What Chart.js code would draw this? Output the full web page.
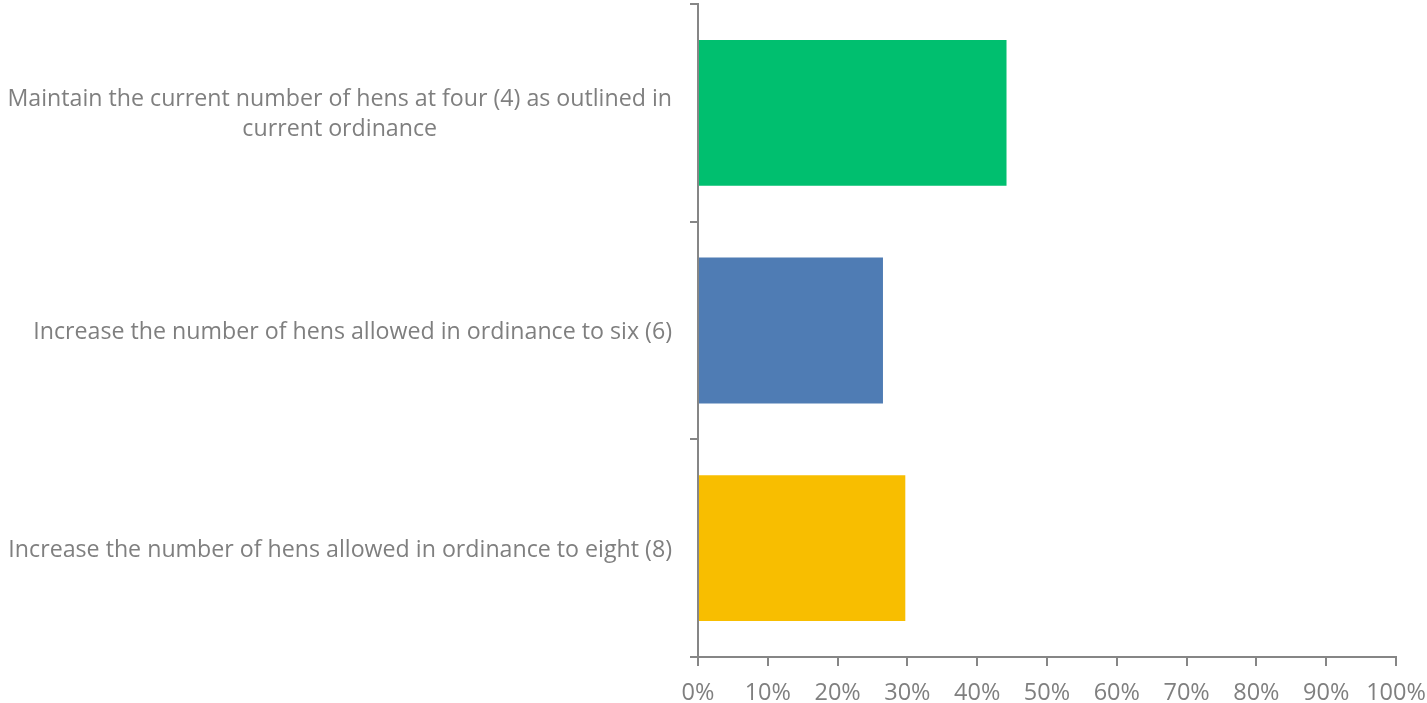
<!DOCTYPE html>
<html>
<head>
<meta charset="utf-8">
<script src="https://cdn.jsdelivr.net/npm/chart.js@4/dist/chart.umd.min.js"></script>
<style>
  html, body { margin: 0; padding: 0; background: #fff; }
  #wrap { width: 1427px; height: 703px; }
</style>
</head>
<body>
<div id="wrap"><canvas id="chart" width="1427" height="703"></canvas></div>
<script>
const categories = [
  ['Maintain the current number of hens at four (4) as outlined in', 'current ordinance'],
  ['Increase the number of hens allowed in ordinance to six (6)'],
  ['Increase the number of hens allowed in ordinance to eight (8)']
];
const values = [44.2, 26.5, 29.7];
const barColors = ['#00bf6f', '#4f7cb4', '#f8be00'];
const xTicks = [0, 10, 20, 30, 40, 50, 60, 70, 80, 90, 100];

const axisColor = '#868686';
const textColor = '#7f7f7f';
const fontFamily = '"Open Sans", sans-serif';

// draws the wrapped category labels: block right-aligned, lines centred in the block
const categoryLabels = {
  id: 'categoryLabels',
  afterDraw(chart) {
    const scale = chart.scales.y;
    const ctx = chart.ctx;
    const right = 672;
    const lineHeight = 30;
    ctx.save();
    ctx.font = '23.2px ' + fontFamily;
    ctx.fillStyle = textColor;
    ctx.textAlign = 'center';
    ctx.textBaseline = 'middle';
    categories.forEach((lines, i) => {
      const y = scale.getPixelForTick(i) + 2;
      const blockW = Math.max(...lines.map(l => ctx.measureText(l).width));
      const cx = right - blockW / 2;
      const y0 = y - (lines.length - 1) * lineHeight / 2;
      lines.forEach((line, j) => ctx.fillText(line, cx, y0 + j * lineHeight));
    });
    ctx.restore();
  }
};

new Chart(document.getElementById('chart').getContext('2d'), {
  type: 'bar',
  data: {
    labels: categories,
    datasets: [{
      data: values,
      backgroundColor: barColors,
      barPercentage: 0.67,
      categoryPercentage: 1
    }]
  },
  options: {
    indexAxis: 'y',
    responsive: false,
    animation: false,
    layout: { padding: { top: 4, right: 31, left: 0, bottom: 0 } },
    scales: {
      x: {
        min: 0,
        max: 100,
        afterBuildTicks(scale) {
          scale.ticks = xTicks.map(v => ({ value: v }));
        },
        afterFit(scale) {
          scale.height = 46;
          scale.paddingLeft = 0;
          scale.paddingRight = 0;
        },
        border: { display: true, color: axisColor, width: 2 },
        grid: { drawOnChartArea: false, drawTicks: true, tickLength: 9, color: axisColor, lineWidth: 2 },
        ticks: {
          color: textColor,
          font: { family: fontFamily, size: 23.5 },
          padding: 13,
          maxRotation: 0,
          autoSkip: false,
          callback: v => v + '%'
        }
      },
      y: {
        afterFit(scale) {
          scale.width = 698;
          scale.paddingTop = 0;
          scale.paddingBottom = 0;
        },
        border: { display: true, color: axisColor, width: 2 },
        grid: { drawOnChartArea: false, drawTicks: true, tickLength: 8, color: axisColor, lineWidth: 2, offset: true },
        ticks: { display: false }
      }
    },
    plugins: {
      legend: { display: false },
      tooltip: { enabled: false }
    }
  },
  plugins: [categoryLabels]
});
</script>
</body>
</html>
